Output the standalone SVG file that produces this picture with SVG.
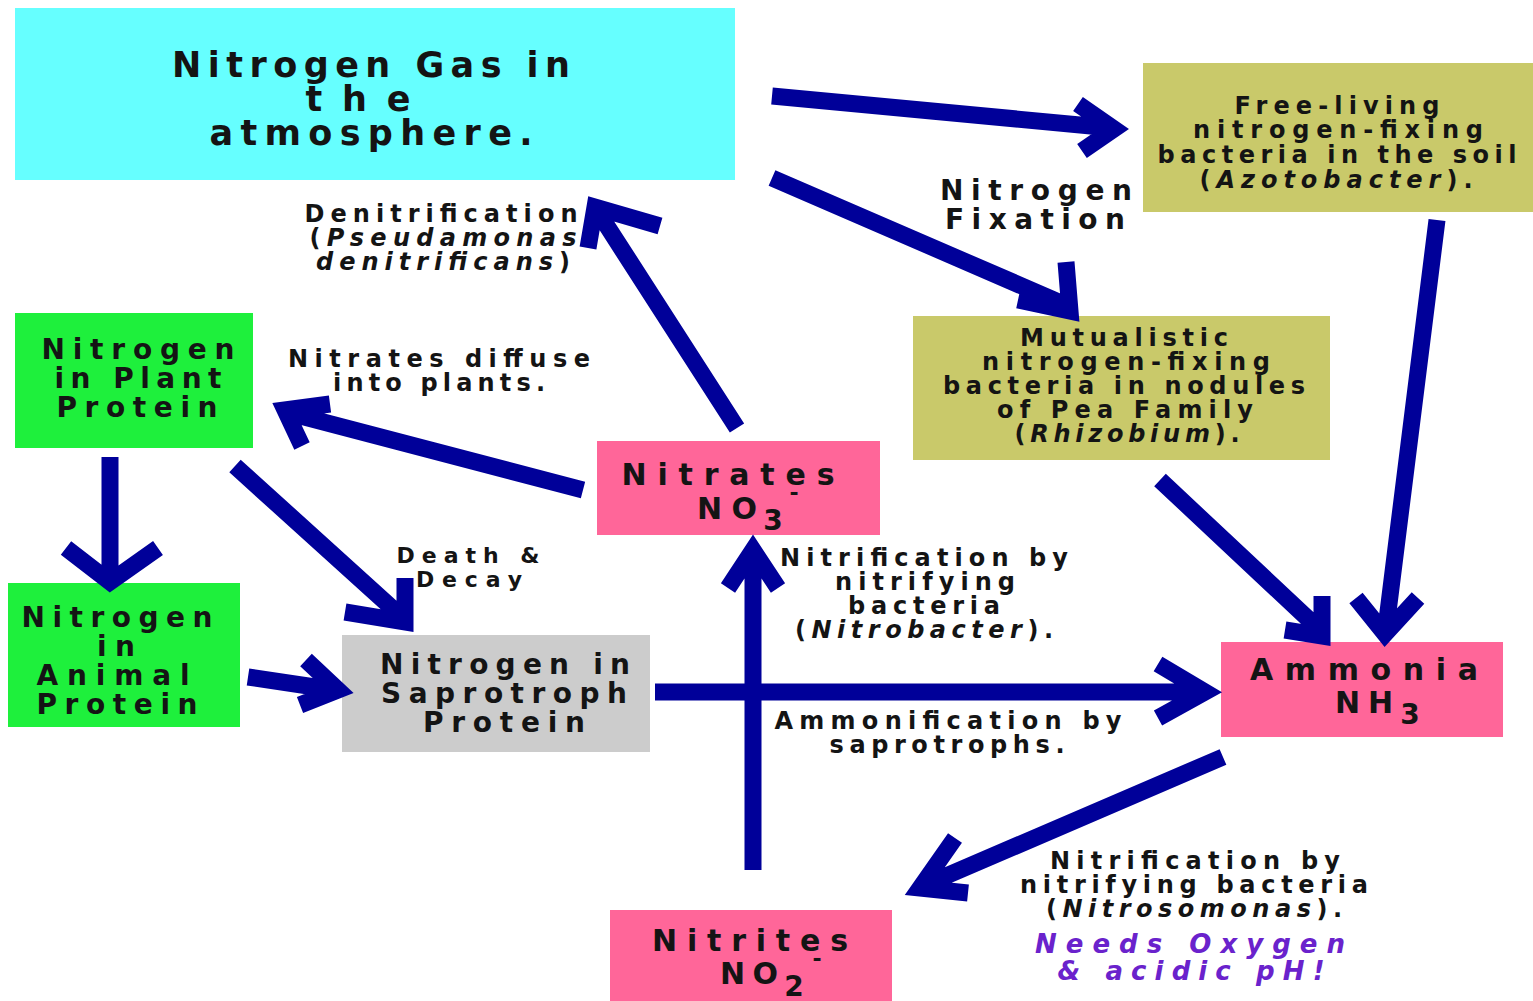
<svg xmlns="http://www.w3.org/2000/svg" width="1533" height="1001" viewBox="0 0 1533 1001">
<style>
.t{font-family:"DejaVu Sans","Liberation Sans",sans-serif;font-weight:bold;fill:#141414;text-anchor:middle}
.s22{font-size:22px}.s24{font-size:24px}.s26{font-size:26px}.s28{font-size:28px}.s30{font-size:30px}.s34{font-size:35px}
.i{font-style:italic}
.p{fill:#6a22cc;font-style:italic}
.cyan{fill:#66ffff}.olive{fill:#c9c96a}.green{fill:#1ef03c}.gray{fill:#cccccc}.pink{fill:#ff6699}
.arr{fill:none;stroke:#000099;stroke-width:17;stroke-linejoin:miter;stroke-linecap:butt}
</style>
<rect width="1533" height="1001" fill="#ffffff"/>

<g id="n2gas">
<rect class="cyan" x="15" y="8" width="720" height="172"/>
<text class="t s34"><tspan x="371" y="77" textLength="398" lengthAdjust="spacing">Nitrogen Gas in</tspan><tspan x="358" y="111" textLength="105" lengthAdjust="spacing">the</tspan><tspan x="371" y="145" textLength="323" lengthAdjust="spacing">atmosphere.</tspan></text>
</g>

<g id="freeliving">
<rect class="olive" x="1143" y="63" width="390" height="149"/>
<text class="t s24"><tspan x="1337" y="114" textLength="205" lengthAdjust="spacing">Free-living</tspan><tspan x="1338" y="138" textLength="290" lengthAdjust="spacing">nitrogen-fixing</tspan><tspan x="1337" y="163" textLength="359" lengthAdjust="spacing">bacteria in the soil</tspan><tspan x="1336" y="188" textLength="273" lengthAdjust="spacing">(<tspan class="i">Azotobacter</tspan>).</tspan></text>
</g>

<g id="mutualistic">
<rect class="olive" x="913" y="316" width="417" height="144"/>
<text class="t s24"><tspan x="1124" y="346" textLength="208" lengthAdjust="spacing">Mutualistic</tspan><tspan x="1126" y="370" textLength="288" lengthAdjust="spacing">nitrogen-fixing</tspan><tspan x="1124" y="394" textLength="362" lengthAdjust="spacing">bacteria in nodules</tspan><tspan x="1125" y="418" textLength="256" lengthAdjust="spacing">of Pea Family</tspan><tspan x="1127" y="442" textLength="225" lengthAdjust="spacing">(<tspan class="i">Rhizobium</tspan>).</tspan></text>
</g>

<g id="plant">
<rect class="green" x="15" y="313" width="238" height="135"/>
<text class="t s28"><tspan x="138" y="359" textLength="193" lengthAdjust="spacing">Nitrogen</tspan><tspan x="138" y="388" textLength="167" lengthAdjust="spacing">in Plant</tspan><tspan x="137" y="417" textLength="161" lengthAdjust="spacing">Protein</tspan></text>
</g>

<g id="animal">
<rect class="green" x="8" y="583" width="232" height="144"/>
<text class="t s28"><tspan x="117" y="627" textLength="191" lengthAdjust="spacing">Nitrogen</tspan><tspan x="116" y="656" textLength="38" lengthAdjust="spacing">in</tspan><tspan x="113" y="685" textLength="153" lengthAdjust="spacing">Animal</tspan><tspan x="117" y="714" textLength="161" lengthAdjust="spacing">Protein</tspan></text>
</g>

<g id="saprotroph">
<rect class="gray" x="342" y="635" width="308" height="117"/>
<text class="t s28"><tspan x="505" y="674" textLength="250" lengthAdjust="spacing">Nitrogen in</tspan><tspan x="504" y="703" textLength="246" lengthAdjust="spacing">Saprotroph</tspan><tspan x="504" y="732" textLength="162" lengthAdjust="spacing">Protein</tspan></text>
</g>

<g id="nitrates">
<rect class="pink" x="597" y="441" width="283" height="94"/>
<text class="t s30"><tspan x="728" y="485" textLength="213" lengthAdjust="spacing">Nitrates</tspan><tspan x="727" y="519" textLength="60" lengthAdjust="spacing">NO</tspan><tspan x="773" y="530" font-size="28">3</tspan><tspan x="794" y="500" font-size="22">-</tspan></text>
</g>

<g id="ammonia">
<rect class="pink" x="1221" y="642" width="282" height="95"/>
<text class="t s30"><tspan x="1364" y="680" textLength="228" lengthAdjust="spacing">Ammonia</tspan><tspan x="1364" y="713" textLength="58" lengthAdjust="spacing">NH</tspan><tspan x="1410" y="724" font-size="28">3</tspan></text>
</g>

<g id="nitrites">
<rect class="pink" x="610" y="910" width="282" height="91"/>
<text class="t s30"><tspan x="750" y="951" textLength="196" lengthAdjust="spacing">Nitrites</tspan><tspan x="749" y="984" textLength="58" lengthAdjust="spacing">NO</tspan><tspan x="794" y="996" font-size="28">2</tspan><tspan x="817" y="966" font-size="22">-</tspan></text>
</g>

<g id="labels">
<text class="t s28"><tspan x="1036" y="200" textLength="192" lengthAdjust="spacing">Nitrogen</tspan><tspan x="1035" y="229" textLength="180" lengthAdjust="spacing">Fixation</tspan></text>

<text class="t s24"><tspan x="441" y="222" textLength="273" lengthAdjust="spacing">Denitrification</tspan><tspan x="443" y="246" textLength="267" lengthAdjust="spacing">(<tspan class="i">Pseudamonas</tspan></tspan><tspan x="443" y="270" textLength="254" lengthAdjust="spacing"><tspan class="i">denitrificans</tspan>)</tspan></text>

<text class="t s24"><tspan x="439" y="367" textLength="302" lengthAdjust="spacing">Nitrates diffuse</tspan><tspan x="439" y="391" textLength="212" lengthAdjust="spacing">into plants.</tspan></text>

<text class="t s22"><tspan x="468" y="563" textLength="143" lengthAdjust="spacing">Death &amp;</tspan><tspan x="469" y="587" textLength="106" lengthAdjust="spacing">Decay</tspan></text>

<text class="t s24"><tspan x="924" y="566" textLength="288" lengthAdjust="spacing">Nitrification by</tspan><tspan x="925" y="590" textLength="180" lengthAdjust="spacing">nitrifying</tspan><tspan x="924" y="614" textLength="152" lengthAdjust="spacing">bacteria</tspan><tspan x="924" y="638" textLength="258" lengthAdjust="spacing">(<tspan class="i">Nitrobacter</tspan>).</tspan></text>

<text class="t s24"><tspan x="948" y="729" textLength="347" lengthAdjust="spacing">Ammonification by</tspan><tspan x="947" y="753" textLength="235" lengthAdjust="spacing">saprotrophs.</tspan></text>

<text class="t s24"><tspan x="1195" y="869" textLength="290" lengthAdjust="spacing">Nitrification by</tspan><tspan x="1194" y="893" textLength="348" lengthAdjust="spacing">nitrifying bacteria</tspan><tspan x="1194" y="917" textLength="296" lengthAdjust="spacing">(<tspan class="i">Nitrosomonas</tspan>).</tspan></text>

<text class="t s26 p"><tspan x="1190" y="953" textLength="310" lengthAdjust="spacing">Needs Oxygen</tspan><tspan x="1191" y="980" textLength="267" lengthAdjust="spacing">&amp; acidic pH!</tspan></text>
</g>

<g id="connectors">
<path class="arr" d="M772,96 L1112,128 M1078,104 L1114,129 L1082,151"/>
<path class="arr" d="M772,178 L1068,306 M1066,262 L1070,311 L1018,300"/>
<path class="arr" d="M1437,220 L1386,628 M1356,598 L1385,634 L1418,598"/>
<path class="arr" d="M1160,480 L1320,630 M1322,596 L1322,636 L1285,630"/>
<path class="arr" d="M1223,757 L925,885 M955,838 L920,888 L968,893"/>
<path class="arr" d="M753,870 L753,552 M728,588 L753,550 L778,588"/>
<path class="arr" d="M655,692 L1203,692 M1158,664 L1205,692 L1158,718"/>
<path class="arr" d="M737,428 L598,212 M588,248 L595,207 L660,226"/>
<path class="arr" d="M583,490 L289,413 M330,404 L285,410 L302,446"/>
<path class="arr" d="M110,457 L110,578 M66,548 L110,582 L158,548"/>
<path class="arr" d="M235,466 L403,618 M405,578 L405,622 L345,612"/>
<path class="arr" d="M248,677 L335,690 M306,660 L338,690 L300,705"/>
</g>
</svg>
